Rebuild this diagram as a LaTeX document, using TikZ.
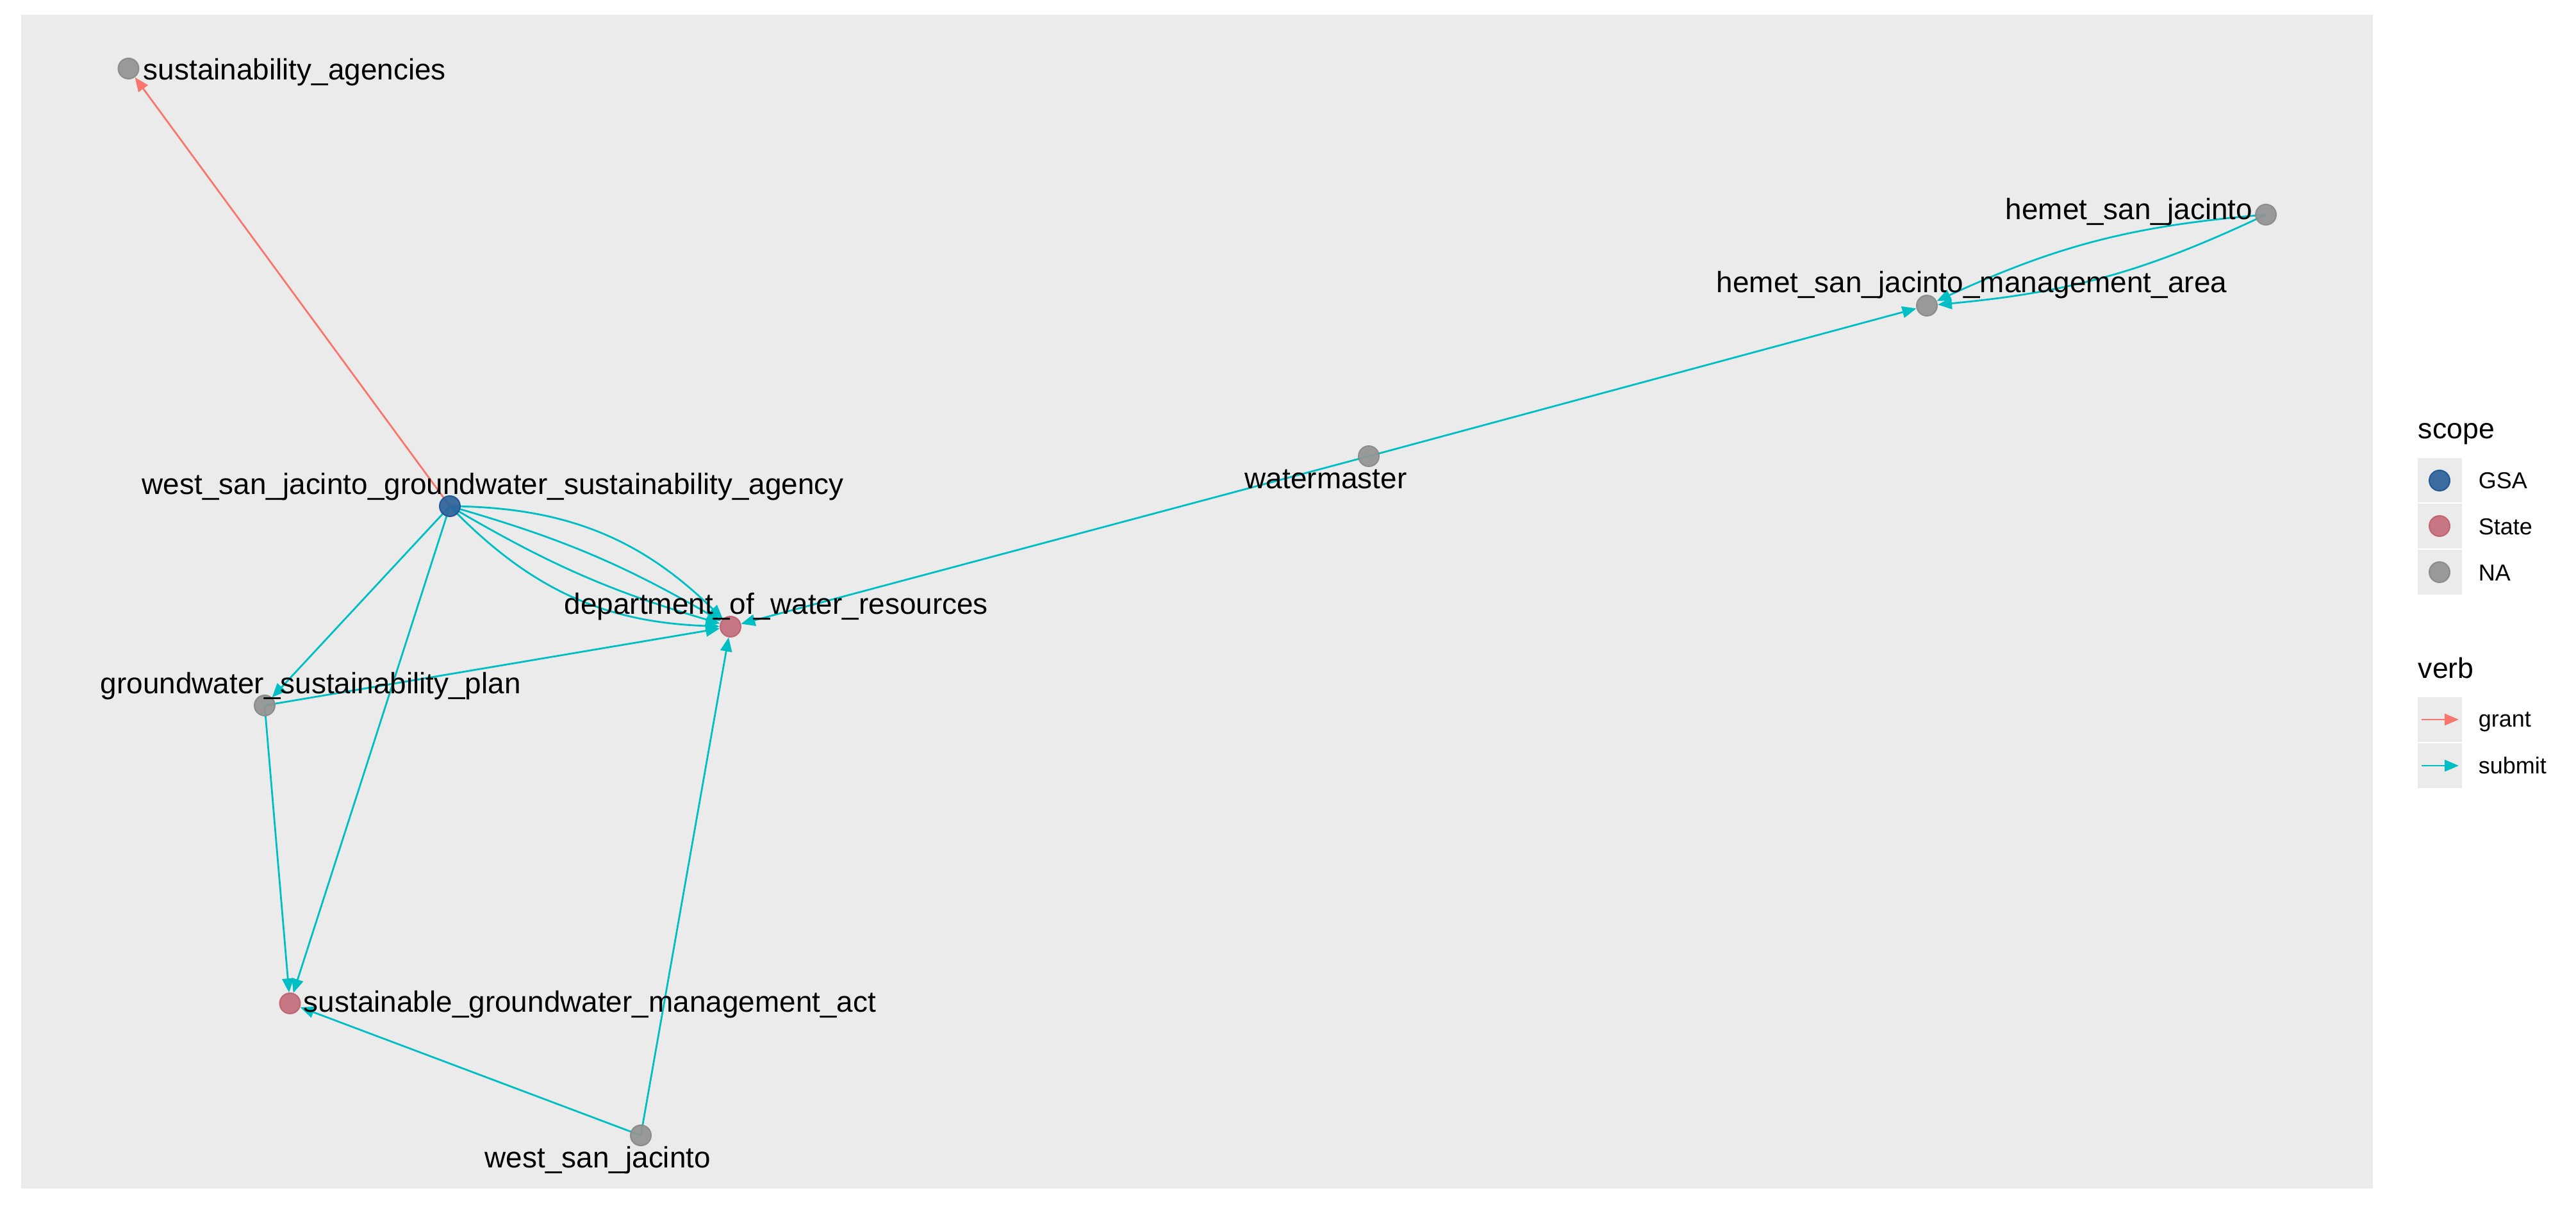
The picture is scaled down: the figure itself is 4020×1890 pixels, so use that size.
\documentclass[tikz,border=0pt]{standalone}
\usepackage{fontspec}
\setmainfont{Liberation Sans}
\usetikzlibrary{arrows.meta}
\definecolor{panelbg}{HTML}{EBEBEB}
\definecolor{gsafill}{HTML}{2F629B}
\definecolor{gsadraw}{HTML}{1B5496}
\definecolor{statefill}{HTML}{C56D7B}
\definecolor{statedraw}{HTML}{C0606F}
\definecolor{nafill}{HTML}{939393}
\definecolor{nadraw}{HTML}{898989}
\definecolor{submitcol}{HTML}{00BFC4}
\definecolor{grantcol}{HTML}{F8766D}
\pgfdeclarelayer{bg}
\pgfdeclarelayer{edges}
\pgfsetlayers{bg,edges,main}
\tikzset{
  vnode/.style={circle, inner sep=0pt, minimum size=8pt, line width=0.5pt, fill opacity=0.92, draw opacity=0.92},
  gsanode/.style={vnode, fill=gsafill, draw=gsadraw},
  statenode/.style={vnode, fill=statefill, draw=statedraw},
  nanode/.style={vnode, fill=nafill, draw=nadraw},
  lbl/.style={inner sep=0pt, anchor=base west, font=\fontsize{11.48}{13}\selectfont},
  submitedge/.style={draw=submitcol, line width=0.7pt, -{Triangle[length=5.5pt,width=4.5pt]}},
  grantedge/.style={draw=grantcol, line width=0.7pt, -{Triangle[length=5.5pt,width=4.5pt]}},
  legtitle/.style={inner sep=0pt, anchor=base west, font=\fontsize{11.15}{13}\selectfont},
  leglbl/.style={inner sep=0pt, anchor=base west, font=\fontsize{9}{11}\selectfont},
  legkey/.style={fill=panelbg, draw=white, line width=0.3pt},
}
\begin{document}
\begin{tikzpicture}[x=0.25pt,y=-0.25pt]
\useasboundingbox (0,0) rectangle (4020,1890);
\begin{pgfonlayer}{bg}
\fill[white] (0,0) rectangle (4020,1890);
\fill[panelbg] (33,23) rectangle (3703,1855);
\end{pgfonlayer}

% nodes
\node[nanode] (sa) at (200.5,107) {};
\node[gsanode] (wsjgsa) at (702,790) {};
\node[statenode] (dwr) at (1140,978) {};
\node[nanode] (gsp) at (413,1101) {};
\node[statenode] (sgma) at (452.5,1566) {};
\node[nanode] (wsj) at (1000,1772) {};
\node[nanode] (wm) at (2136,712) {};
\node[nanode] (hsj) at (3536,335) {};
\node[nanode] (hsjma) at (3007,477) {};

% edges
\begin{pgfonlayer}{edges}
\draw[grantedge] (wsjgsa.center) -- (sa);
\draw[submitedge] (wsjgsa.center) to[bend left=22] (dwr);
\draw[submitedge] (wsjgsa.center) to[bend left=7] (dwr);
\draw[submitedge] (wsjgsa.center) to[bend right=7] (dwr);
\draw[submitedge] (wsjgsa.center) to[bend right=22] (dwr);
\draw[submitedge] (wsjgsa.center) -- (gsp);
\draw[submitedge] (wsjgsa.center) -- (sgma);
\draw[submitedge] (gsp.center) -- (sgma);
\draw[submitedge] (gsp.center) -- (dwr);
\draw[submitedge] (wsj.center) -- (dwr);
\draw[submitedge] (wsj.center) -- (sgma);
\draw[submitedge] (wm.center) -- (dwr);
\draw[submitedge] (wm.center) -- (hsjma);
\draw[submitedge] (hsj.center) to[bend left=10] (hsjma);
\draw[submitedge] (hsj.center) to[bend right=10] (hsjma);
\end{pgfonlayer}

% labels
\node[lbl] (lsa) at (223,125) {sustainability\_agencies};
\node[lbl] (lwsjgsa) at (221,772) {west\_san\_jacinto\_groundwater\_sustainability\_agency};
\node[lbl] (ldwr) at (880,959) {department\_of\_water\_resources};
\node[lbl] (lgsp) at (156,1083) {groundwater\_sustainability\_plan};
\node[lbl] (lsgma) at (473,1580) {sustainable\_groundwater\_management\_act};
\node[lbl] (lwsj) at (756,1823) {west\_san\_jacinto};
\node[lbl] (lwm) at (1942,763) {watermaster};
\node[lbl] (lhsj) at (3129,343) {hemet\_san\_jacinto};
\node[lbl] (lhsjma) at (2678,457) {hemet\_san\_jacinto\_management\_area};

% legend: scope
\node[legtitle] (tscope) at (3773,685) {scope};
\draw[legkey] (3772,714) rectangle (3843,785);
\draw[legkey] (3772,785) rectangle (3843,857);
\draw[legkey] (3772,857) rectangle (3843,929);
\node[gsanode] (kgsa) at (3807,750) {};
\node[statenode] (kstate) at (3807,821) {};
\node[nanode] (kna) at (3807,893) {};
\node[leglbl] (lgsa) at (3867,763) {GSA};
\node[leglbl] (lstate) at (3867,835) {State};
\node[leglbl] (lna) at (3867,907) {NA};

% legend: verb
\node[legtitle] (tverb) at (3773,1059) {verb};
\draw[legkey] (3772,1087) rectangle (3843,1159);
\draw[legkey] (3772,1159) rectangle (3843,1231);
\coordinate (g1) at (3779,1123);
\coordinate (g2) at (3837,1123);
\coordinate (s1) at (3779,1195);
\coordinate (s2) at (3837,1195);
\draw[grantedge] (g1) -- (g2);
\draw[submitedge] (s1) -- (s2);
\node[leglbl] (lgrant) at (3867,1135) {grant};
\node[leglbl] (lsubmit) at (3867,1208) {submit};
\end{tikzpicture}
\end{document}
